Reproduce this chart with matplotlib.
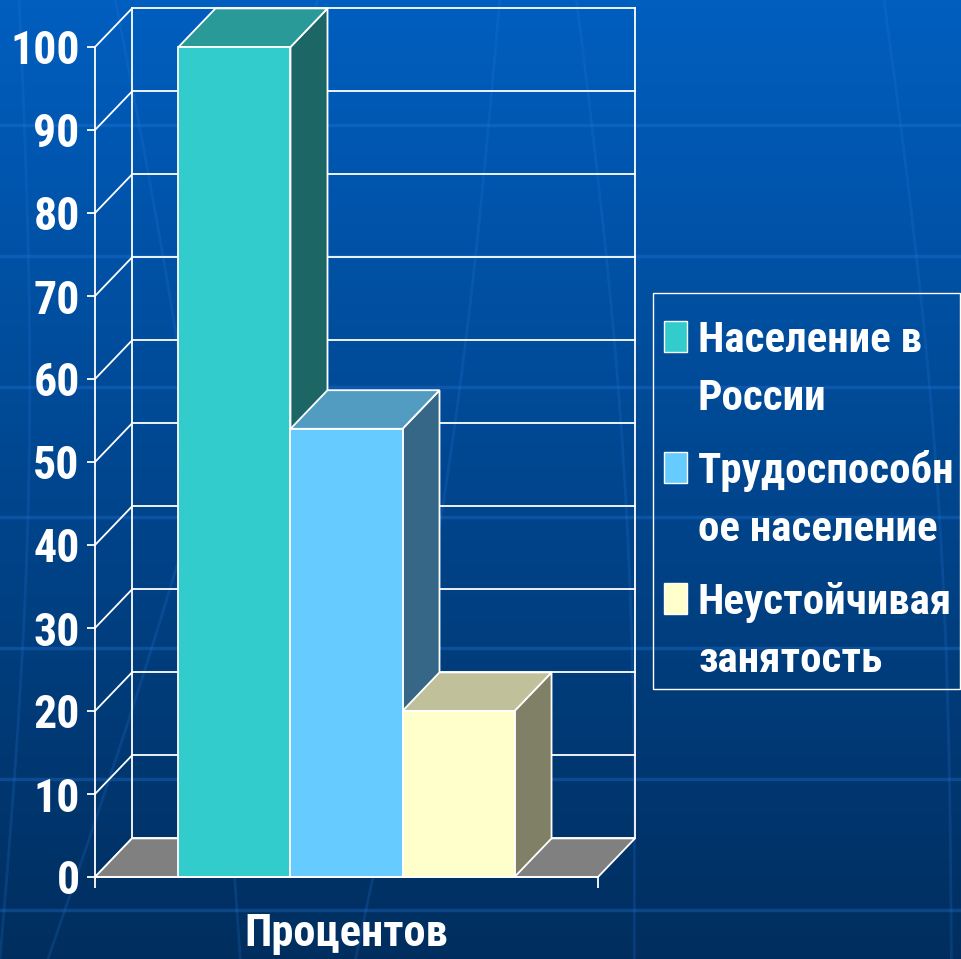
import numpy as np
import matplotlib
matplotlib.use("Agg")
import matplotlib.pyplot as plt
from matplotlib.patches import Polygon, Rectangle

# data
category = "Процентов"
series = ["Население в\nРоссии", "Трудоспособн\nое население", "Неустойчивая\nзанятость"]
values = [100, 54, 20]
front_colors = ["#33CCCC", "#66CCFF", "#FFFFCC"]
top_colors = ["#2A9A98", "#529CC2", "#C0C09A"]
side_colors = ["#1D6666", "#366786", "#808066"]
yticks = list(range(0, 101, 10))

W, H = 961, 959
FONT = ["Roboto Condensed", "PT Sans Narrow", "Liberation Sans", "DejaVu Sans"]

fig = plt.figure(figsize=(W / 100, H / 100), dpi=100)

# background gradient
bg = fig.add_axes([0, 0, 1, 1])
grad = np.linspace(0, 1, 256)[:, None]
top_c = np.array([0.0, 0.37, 0.75])
bot_c = np.array([0.0, 0.18, 0.37])
img = top_c[None, None, :] * (1 - grad[..., None]) + bot_c[None, None, :] * grad[..., None]
bg.imshow(np.repeat(img, 2, axis=1), aspect="auto", extent=[0, 1, 0, 1])
# faint decorative lines of the slide template
for py in [125, 256, 387, 517, 648, 779, 910]:
    bg.axhline(1 - py / H, color="#2a7ae0", alpha=0.3, lw=2.5)
for x0, x1 in [(0.02, 0.0), (0.12, 0.25), (0.52, 0.37), (0.6, 0.66), (0.92, 0.99), (0.33, 0.05)]:
    t = np.linspace(0, 1, 50)
    bg.plot(x0 + (x1 - x0) * t + 0.02 * np.sin(np.pi * t), 1 - t, color="#2a7ae0", alpha=0.2, lw=2)
bg.set_xlim(0, 1)
bg.set_ylim(0, 1)
bg.axis("off")

# front plane axes
ax = fig.add_axes([95 / W, 1 - 877 / H, 503 / W, 830 / H])
ax.set_xlim(-0.5, 0.5)
ax.set_ylim(0, 100)
ax.patch.set_alpha(0)

DX = 37 / 503
DY = 4.65
x0, x1 = -0.5, 0.5
lw = 1.3
ec = "white"

# back wall grid and left wall diagonals
for v in yticks:
    ax.plot([x0 + DX, x1 + DX], [v + DY, v + DY], color=ec, lw=lw, clip_on=False, zorder=1)
    ax.plot([x0, x0 + DX], [v, v + DY], color=ec, lw=lw, clip_on=False, zorder=1)
ax.plot([x0 + DX, x0 + DX], [DY, 100 + DY], color=ec, lw=lw, clip_on=False, zorder=1)
ax.plot([x1 + DX, x1 + DX], [DY, 100 + DY], color=ec, lw=lw, clip_on=False, zorder=1)

# floor
ax.add_patch(Polygon([(x0, 0), (x1, 0), (x1 + DX, DY), (x0 + DX, DY)],
                     closed=True, fc="#808080", ec=ec, lw=lw, clip_on=False, zorder=2))

# bars
bw = 0.2227
for i, (v, fc, tc, sc) in enumerate(zip(values, front_colors, top_colors, side_colors)):
    left = (i - 1) * bw - bw / 2
    right = left + bw
    ax.add_patch(Polygon([(right, 0), (right + DX, DY), (right + DX, v + DY), (right, v)],
                         closed=True, fc=sc, ec=ec, lw=lw, clip_on=False, zorder=3 + i))
    ax.add_patch(Polygon([(left, v), (right, v), (right + DX, v + DY), (left + DX, v + DY)],
                         closed=True, fc=tc, ec=ec, lw=lw, clip_on=False, zorder=3 + i))
    ax.add_patch(Rectangle((left, 0), bw, v, fc=fc, ec=ec, lw=lw, clip_on=False, zorder=3 + i))

# axes styling
for s in ["top", "right"]:
    ax.spines[s].set_visible(False)
for s in ["left", "bottom"]:
    ax.spines[s].set_color(ec)
    ax.spines[s].set_linewidth(lw)
    ax.spines[s].set_zorder(10)
ax.set_yticks(yticks)
ax.set_yticklabels([str(t) for t in yticks], fontfamily=FONT, fontweight="bold", fontsize=33, color="white")
ax.tick_params(axis="y", colors="white", length=6, width=lw, pad=5, labelcolor="white")
ax.set_xticks([x0, x1])
ax.set_xticklabels([])
ax.tick_params(axis="x", which="major", colors="white", length=8, width=lw)
ax.set_xticks([0], minor=True)
ax.set_xticklabels([category], minor=True, fontfamily=FONT, fontweight="bold", fontsize=32, color="white")
ax.tick_params(axis="x", which="minor", length=0, pad=26)

# legend
def fx(px):
    return px / W

def fy(py):
    return 1 - py / H

fig.patches.append(Rectangle((fx(653), fy(689)), fx(961) - fx(653) - 0.001, fy(293) - fy(689),
                             transform=fig.transFigure, fill=False, ec=ec, lw=1.0))
base = 352
for i, (lab, fc) in enumerate(zip(series, front_colors)):
    yb = base + i * 131
    fig.patches.append(Rectangle((fx(664), fy(yb)), fx(687) - fx(664), fy(yb - 31) - fy(yb),
                                 transform=fig.transFigure, fc=fc, ec=ec, lw=1.0))
    for j, line in enumerate(lab.split("\n")):
        fig.text(fx(698), fy(yb + j * 58), line, fontfamily=FONT, fontweight="bold",
                 fontsize=31, color="white", va="baseline", ha="left")

fig.savefig("out.png", dpi=100)
